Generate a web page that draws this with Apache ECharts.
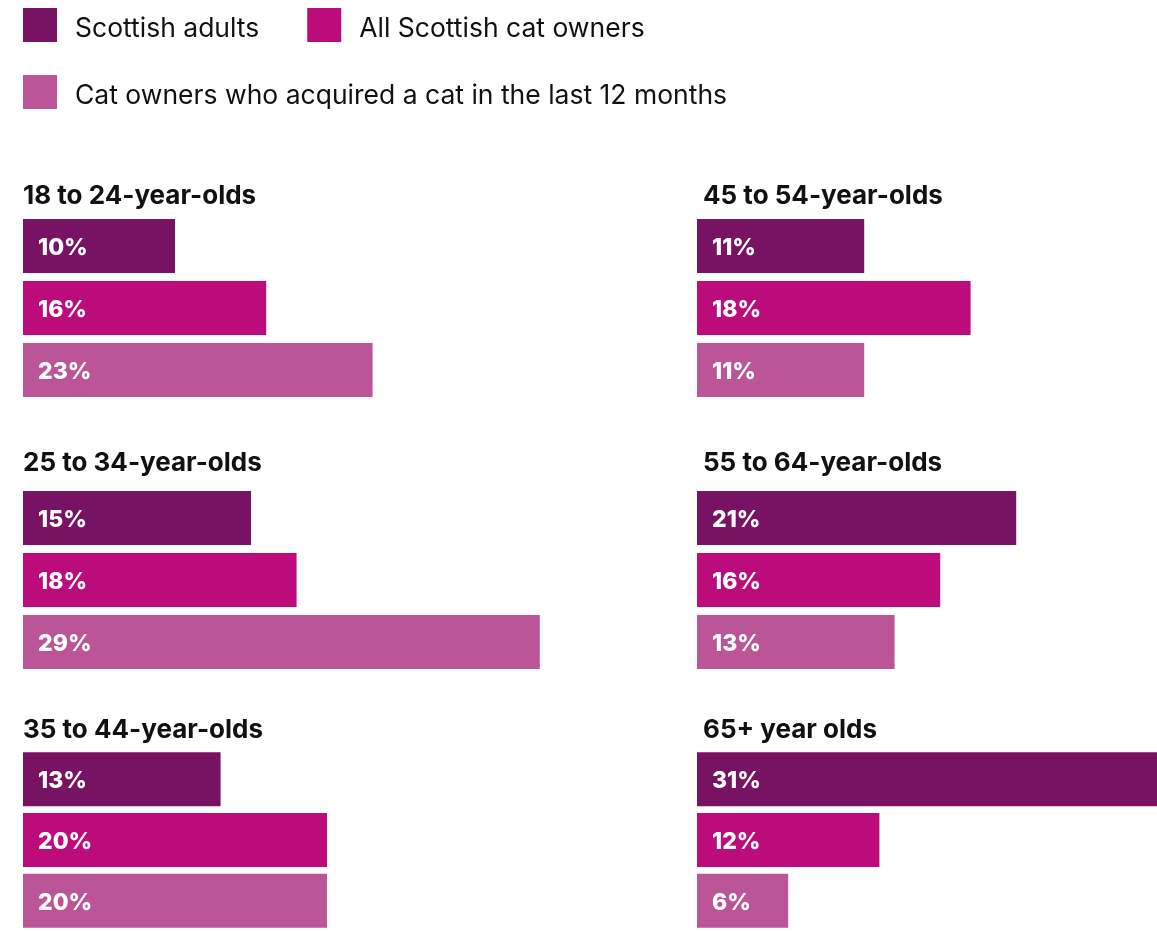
<!DOCTYPE html>
<html>
<head>
<meta charset="utf-8">
<script src="https://cdn.jsdelivr.net/npm/echarts@6/dist/echarts.min.js"></script>
<style>
html,body{margin:0;padding:0;background:#fff;}
#chart{width:1157px;height:931px;}
</style>
</head>
<body>
<div id="chart"></div>
<script>
// ---- data ----
const ageGroups = ['18 to 24-year-olds','25 to 34-year-olds','35 to 44-year-olds','45 to 54-year-olds','55 to 64-year-olds','65+ year olds'];
const seriesNames = ['Scottish adults','All Scottish cat owners','Cat owners who acquired a cat in the last 12 months'];
// printed percentages
const scottishAdults = [10, 15, 13, 11, 21, 31];
const allCatOwners = [16, 18, 20, 18, 16, 12];
const recentAcquirers = [23, 29, 20, 11, 13, 6];
// bar lengths as drawn in the picture (the 29% bar is drawn longer than its label)
const scottishAdultsBar = [10, 15, 13, 11, 21, 31];
const allCatOwnersBar = [16, 18, 20, 18, 16, 12];
const recentAcquirersBar = [23, 34, 20, 11, 13, 6];

const colors = ['#781262', '#BC0B7B', '#BC5597'];
const FONT = 'Inter, "Noto Sans", sans-serif';

// panel layout
const PX_PER_PCT = 15.2;
const colLeft = [23, 697];
const colWidth = [608, 460];
const titleLeft = [23, 703];
const rowTop = [215, 487, 749];
const titleTop = [181, 448, 715];

const chart = echarts.init(document.getElementById('chart'));

const grids = [], xAxes = [], yAxes = [], series = [], titles = [];
const printed = [scottishAdults, allCatOwners, recentAcquirers];
const drawn = [scottishAdultsBar, allCatOwnersBar, recentAcquirersBar];

ageGroups.forEach((g, i) => {
  const col = i < 3 ? 0 : 1;
  const row = i % 3;
  grids.push({ left: colLeft[col], top: rowTop[row], width: colWidth[col], height: 186, containLabel: false });
  xAxes.push({ type: 'value', gridIndex: i, min: 0, max: colWidth[col] / PX_PER_PCT, show: false });
  yAxes.push({ type: 'category', gridIndex: i, data: seriesNames, inverse: true, show: false });
  titles.push({
    text: g, left: titleLeft[col], top: titleTop[row], padding: 0,
    textStyle: { fontFamily: FONT, fontSize: 26, fontWeight: 'bold', color: '#111', lineHeight: 30 }
  });
  seriesNames.forEach((name, s) => {
    const data = seriesNames.map((_, k) => k === s ? drawn[s][i] : '-');
    series.push({
      type: 'bar', name: name, xAxisIndex: i, yAxisIndex: i,
      data: data, barWidth: 54, barGap: '-100%',
      itemStyle: { color: colors[s] },
      clip: true,
      silent: true,
      label: {
        show: true, position: 'insideLeft', distance: 15, offset: [0, 2],
        formatter: () => printed[s][i] + '%',
        color: '#fff', fontFamily: FONT, fontWeight: 800, fontSize: 23
      }
    });
  });
});

const legendCommon = {
  icon: 'rect', itemWidth: 34, itemHeight: 34, padding: 0,
  selectedMode: false,
  formatter: '{t|{name}}',
  textStyle: {
    fontFamily: FONT, fontSize: 26.5, color: '#111',
    rich: { t: { fontFamily: FONT, fontSize: 26.5, color: '#111', padding: [8, 0, 0, 13] } }
  }
};

chart.setOption({
  animation: false,
  color: colors,
  title: titles,
  legend: [
    Object.assign({}, legendCommon, { left: 23, top: 8, itemGap: 48, data: seriesNames.slice(0, 2) }),
    Object.assign({}, legendCommon, { left: 23, top: 75, data: seriesNames.slice(2) })
  ],
  grid: grids,
  xAxis: xAxes,
  yAxis: yAxes,
  series: series
});
</script>
</body>
</html>
